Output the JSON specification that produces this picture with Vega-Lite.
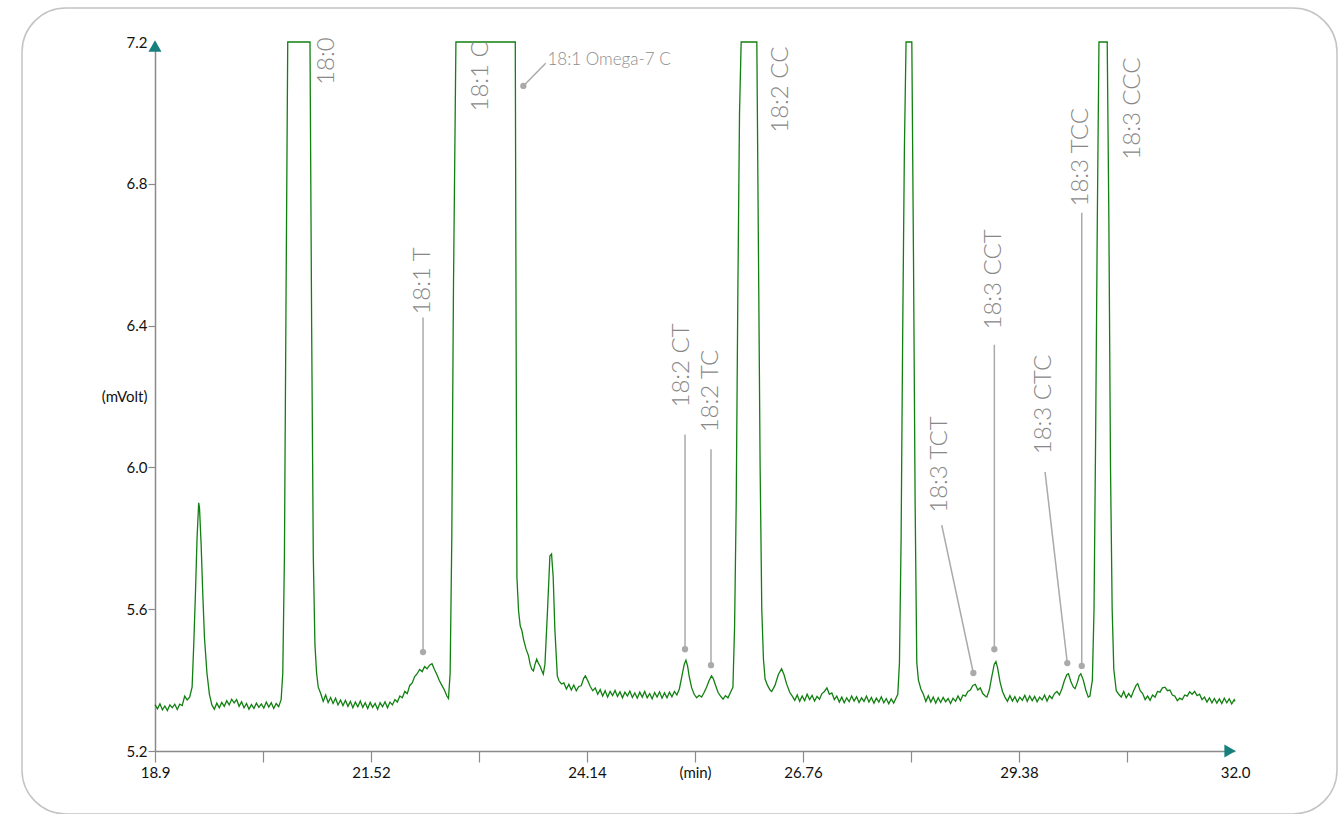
{
  "$schema": "https://vega.github.io/schema/vega-lite/v6.json",
  "autosize": "none",
  "width": 1315,
  "height": 806,
  "padding": {"left": 22, "top": 8, "right": 6, "bottom": 0},
  "background": "white",
  "config": {
    "font": "Lato",
    "view": {"stroke": "#c4c4c4", "strokeWidth": 1.5, "cornerRadius": 44}
  },
  "datasets": {
    "trace": [
      {"t":18.90,"v":5.331},{"t":18.93,"v":5.319},{"t":18.96,"v":5.333},{"t":18.99,"v":5.316},{"t":19.02,"v":5.327},{"t":19.05,"v":5.314},{"t":19.08,"v":5.330},{"t":19.11,"v":5.322},{"t":19.14,"v":5.332},{"t":19.17,"v":5.317},{"t":19.20,"v":5.332},{"t":19.23,"v":5.328},{"t":19.26,"v":5.355},{"t":19.29,"v":5.344},{"t":19.32,"v":5.352},
      {"t":19.35,"v":5.38},{"t":19.37,"v":5.50},{"t":19.39,"v":5.64},{"t":19.41,"v":5.80},{"t":19.43,"v":5.90},{"t":19.44,"v":5.885},{"t":19.46,"v":5.78},{"t":19.48,"v":5.64},{"t":19.50,"v":5.52},{"t":19.53,"v":5.42},{"t":19.56,"v":5.36},{"t":19.59,"v":5.33},
      {"t":19.62,"v":5.318},{"t":19.65,"v":5.335},{"t":19.68,"v":5.322},{"t":19.71,"v":5.337},{"t":19.74,"v":5.326},{"t":19.77,"v":5.342},{"t":19.80,"v":5.330},{"t":19.83,"v":5.346},{"t":19.86,"v":5.336},{"t":19.89,"v":5.345},{"t":19.92,"v":5.326},{"t":19.95,"v":5.339},{"t":19.98,"v":5.322},{"t":20.01,"v":5.334},{"t":20.04,"v":5.318},{"t":20.07,"v":5.331},{"t":20.10,"v":5.320},{"t":20.13,"v":5.335},{"t":20.16,"v":5.323},{"t":20.19,"v":5.333},{"t":20.22,"v":5.321},{"t":20.25,"v":5.338},{"t":20.28,"v":5.324},{"t":20.31,"v":5.336},{"t":20.34,"v":5.320},{"t":20.37,"v":5.334},{"t":20.40,"v":5.325},{"t":20.43,"v":5.345},
      {"t":20.45,"v":5.42},{"t":20.47,"v":5.75},{"t":20.49,"v":6.5},{"t":20.51,"v":7.2},{"t":20.78,"v":7.2},{"t":20.80,"v":6.4},{"t":20.82,"v":5.75},{"t":20.84,"v":5.50},{"t":20.86,"v":5.42},{"t":20.88,"v":5.38},{"t":20.91,"v":5.362},
      {"t":20.94,"v":5.340},{"t":20.97,"v":5.358},{"t":21.00,"v":5.337},{"t":21.03,"v":5.351},{"t":21.06,"v":5.334},{"t":21.09,"v":5.349},{"t":21.12,"v":5.330},{"t":21.15,"v":5.344},{"t":21.18,"v":5.328},{"t":21.21,"v":5.343},{"t":21.24,"v":5.326},{"t":21.27,"v":5.340},{"t":21.30,"v":5.322},{"t":21.33,"v":5.338},{"t":21.36,"v":5.325},{"t":21.39,"v":5.341},{"t":21.42,"v":5.323},{"t":21.45,"v":5.336},{"t":21.48,"v":5.320},{"t":21.51,"v":5.337},{"t":21.54,"v":5.323},{"t":21.57,"v":5.334},{"t":21.60,"v":5.318},{"t":21.63,"v":5.336},{"t":21.66,"v":5.325},{"t":21.69,"v":5.339},{"t":21.72,"v":5.322},{"t":21.75,"v":5.338},{"t":21.78,"v":5.330},{"t":21.81,"v":5.345},
      {"t":21.84,"v":5.338},{"t":21.87,"v":5.355},{"t":21.90,"v":5.350},{"t":21.93,"v":5.368},{"t":21.96,"v":5.362},{"t":21.99,"v":5.385},{"t":22.02,"v":5.392},{"t":22.05,"v":5.410},{"t":22.08,"v":5.418},{"t":22.11,"v":5.430},{"t":22.14,"v":5.424},{"t":22.17,"v":5.438},{"t":22.20,"v":5.432},{"t":22.23,"v":5.442},{"t":22.26,"v":5.446},{"t":22.29,"v":5.430},{"t":22.32,"v":5.415},{"t":22.35,"v":5.398},{"t":22.38,"v":5.385},{"t":22.41,"v":5.372},{"t":22.44,"v":5.355},{"t":22.46,"v":5.348},
      {"t":22.48,"v":5.42},{"t":22.50,"v":5.8},{"t":22.52,"v":6.5},{"t":22.55,"v":7.2},{"t":23.27,"v":7.2},{"t":23.28,"v":6.4},{"t":23.29,"v":5.69},{"t":23.31,"v":5.595},{"t":23.33,"v":5.553},{"t":23.35,"v":5.540},{"t":23.37,"v":5.515},{"t":23.40,"v":5.488},{"t":23.43,"v":5.469},{"t":23.45,"v":5.445},{"t":23.47,"v":5.431},{"t":23.49,"v":5.426},{"t":23.51,"v":5.445},{"t":23.53,"v":5.459},{"t":23.55,"v":5.448},{"t":23.57,"v":5.440},{"t":23.59,"v":5.428},{"t":23.61,"v":5.417},{"t":23.63,"v":5.445},{"t":23.66,"v":5.591},{"t":23.69,"v":5.750},{"t":23.71,"v":5.756},{"t":23.73,"v":5.69},{"t":23.75,"v":5.544},{"t":23.78,"v":5.412},{"t":23.80,"v":5.398},{"t":23.83,"v":5.389},
      {"t":23.86,"v":5.392},{"t":23.89,"v":5.375},{"t":23.92,"v":5.388},{"t":23.95,"v":5.372},{"t":23.98,"v":5.386},{"t":24.01,"v":5.370},{"t":24.04,"v":5.382},{"t":24.07,"v":5.384},{"t":24.10,"v":5.405},{"t":24.12,"v":5.412},{"t":24.15,"v":5.398},{"t":24.18,"v":5.382},{"t":24.21,"v":5.370},{"t":24.24,"v":5.378},{"t":24.27,"v":5.360},{"t":24.30,"v":5.373},{"t":24.33,"v":5.355},{"t":24.36,"v":5.370},{"t":24.39,"v":5.352},{"t":24.42,"v":5.368},{"t":24.45,"v":5.356},{"t":24.48,"v":5.371},{"t":24.51,"v":5.354},{"t":24.54,"v":5.367},{"t":24.57,"v":5.350},{"t":24.60,"v":5.366},{"t":24.63,"v":5.355},{"t":24.66,"v":5.369},{"t":24.69,"v":5.351},{"t":24.72,"v":5.364},{"t":24.75,"v":5.349},{"t":24.78,"v":5.366},{"t":24.81,"v":5.352},{"t":24.84,"v":5.368},{"t":24.87,"v":5.350},{"t":24.90,"v":5.362},{"t":24.93,"v":5.347},{"t":24.96,"v":5.365},{"t":24.99,"v":5.352},{"t":25.02,"v":5.367},{"t":25.05,"v":5.349},{"t":25.08,"v":5.364},{"t":25.11,"v":5.350},{"t":25.14,"v":5.366},{"t":25.17,"v":5.353},{"t":25.20,"v":5.368},{"t":25.23,"v":5.358},
      {"t":25.26,"v":5.375},{"t":25.29,"v":5.410},{"t":25.32,"v":5.445},{"t":25.34,"v":5.456},{"t":25.36,"v":5.440},{"t":25.38,"v":5.410},{"t":25.41,"v":5.378},{"t":25.44,"v":5.360},{"t":25.47,"v":5.350},{"t":25.50,"v":5.357},{"t":25.53,"v":5.352},{"t":25.56,"v":5.365},{"t":25.59,"v":5.380},{"t":25.62,"v":5.398},{"t":25.65,"v":5.412},{"t":25.67,"v":5.405},{"t":25.70,"v":5.385},{"t":25.73,"v":5.365},{"t":25.76,"v":5.355},{"t":25.79,"v":5.346},{"t":25.82,"v":5.356},{"t":25.85,"v":5.350},{"t":25.88,"v":5.365},{"t":25.91,"v":5.38},
      {"t":25.93,"v":5.55},{"t":25.95,"v":5.9},{"t":25.97,"v":6.5},{"t":25.99,"v":7.0},{"t":26.01,"v":7.2},{"t":26.20,"v":7.2},{"t":26.22,"v":6.6},{"t":26.24,"v":6.0},{"t":26.26,"v":5.6},{"t":26.28,"v":5.46},{"t":26.30,"v":5.403},{"t":26.33,"v":5.385},{"t":26.36,"v":5.372},{"t":26.38,"v":5.368},{"t":26.42,"v":5.385},{"t":26.46,"v":5.415},{"t":26.50,"v":5.432},{"t":26.53,"v":5.415},{"t":26.56,"v":5.390},{"t":26.60,"v":5.365},{"t":26.63,"v":5.355},
      {"t":26.66,"v":5.343},{"t":26.69,"v":5.358},{"t":26.72,"v":5.340},{"t":26.75,"v":5.355},{"t":26.78,"v":5.342},{"t":26.81,"v":5.360},{"t":26.84,"v":5.345},{"t":26.87,"v":5.357},{"t":26.90,"v":5.341},{"t":26.93,"v":5.354},{"t":26.96,"v":5.346},{"t":26.99,"v":5.362},{"t":27.02,"v":5.368},{"t":27.05,"v":5.378},{"t":27.08,"v":5.360},{"t":27.11,"v":5.364},{"t":27.14,"v":5.345},{"t":27.17,"v":5.355},{"t":27.20,"v":5.338},{"t":27.23,"v":5.352},{"t":27.26,"v":5.336},{"t":27.29,"v":5.350},{"t":27.32,"v":5.339},{"t":27.35,"v":5.355},{"t":27.38,"v":5.341},{"t":27.41,"v":5.353},{"t":27.44,"v":5.337},{"t":27.47,"v":5.350},{"t":27.50,"v":5.340},{"t":27.53,"v":5.355},{"t":27.56,"v":5.338},{"t":27.59,"v":5.351},{"t":27.62,"v":5.335},{"t":27.65,"v":5.349},{"t":27.68,"v":5.338},{"t":27.71,"v":5.353},{"t":27.74,"v":5.336},{"t":27.77,"v":5.348},{"t":27.80,"v":5.333},{"t":27.83,"v":5.347},{"t":27.86,"v":5.335},{"t":27.89,"v":5.350},
      {"t":27.91,"v":5.36},{"t":27.93,"v":5.45},{"t":27.95,"v":5.8},{"t":27.97,"v":6.4},{"t":27.99,"v":6.9},{"t":28.01,"v":7.2},{"t":28.08,"v":7.2},{"t":28.10,"v":6.6},{"t":28.12,"v":5.9},{"t":28.14,"v":5.45},{"t":28.16,"v":5.40},{"t":28.19,"v":5.375},{"t":28.22,"v":5.36},
      {"t":28.25,"v":5.340},{"t":28.28,"v":5.356},{"t":28.31,"v":5.338},{"t":28.34,"v":5.352},{"t":28.37,"v":5.335},{"t":28.40,"v":5.350},{"t":28.43,"v":5.337},{"t":28.46,"v":5.351},{"t":28.49,"v":5.339},{"t":28.52,"v":5.348},{"t":28.55,"v":5.334},{"t":28.58,"v":5.349},{"t":28.61,"v":5.340},{"t":28.64,"v":5.355},{"t":28.67,"v":5.342},{"t":28.70,"v":5.358},{"t":28.73,"v":5.355},{"t":28.76,"v":5.368},
      {"t":28.79,"v":5.372},{"t":28.82,"v":5.385},{"t":28.85,"v":5.388},{"t":28.88,"v":5.372},{"t":28.91,"v":5.378},{"t":28.94,"v":5.362},{"t":28.97,"v":5.355},{"t":28.99,"v":5.352},
      {"t":29.02,"v":5.372},{"t":29.05,"v":5.410},{"t":29.08,"v":5.445},{"t":29.10,"v":5.452},{"t":29.12,"v":5.435},{"t":29.15,"v":5.395},{"t":29.18,"v":5.368},{"t":29.21,"v":5.352},
      {"t":29.24,"v":5.340},{"t":29.27,"v":5.356},{"t":29.30,"v":5.341},{"t":29.33,"v":5.353},{"t":29.36,"v":5.338},{"t":29.39,"v":5.352},{"t":29.42,"v":5.343},{"t":29.45,"v":5.357},{"t":29.48,"v":5.340},{"t":29.51,"v":5.355},{"t":29.54,"v":5.342},{"t":29.57,"v":5.354},{"t":29.60,"v":5.339},{"t":29.63,"v":5.352},{"t":29.66,"v":5.344},{"t":29.69,"v":5.358},{"t":29.72,"v":5.341},{"t":29.75,"v":5.356},{"t":29.78,"v":5.348},{"t":29.81,"v":5.362},{"t":29.84,"v":5.368},{"t":29.87,"v":5.358},{"t":29.90,"v":5.375},
      {"t":29.93,"v":5.398},{"t":29.96,"v":5.415},{"t":29.98,"v":5.418},{"t":30.01,"v":5.395},{"t":30.04,"v":5.380},{"t":30.06,"v":5.376},{"t":30.09,"v":5.395},{"t":30.11,"v":5.412},{"t":30.13,"v":5.418},{"t":30.16,"v":5.400},{"t":30.19,"v":5.372},{"t":30.22,"v":5.352},{"t":30.24,"v":5.355},
      {"t":30.27,"v":5.40},{"t":30.29,"v":5.6},{"t":30.31,"v":6.1},{"t":30.33,"v":6.7},{"t":30.35,"v":7.2},{"t":30.45,"v":7.2},{"t":30.47,"v":6.7},{"t":30.49,"v":6.0},{"t":30.51,"v":5.6},{"t":30.53,"v":5.43},{"t":30.56,"v":5.37},{"t":30.59,"v":5.36},
      {"t":30.62,"v":5.352},{"t":30.65,"v":5.368},{"t":30.68,"v":5.350},{"t":30.71,"v":5.362},{"t":30.74,"v":5.352},{"t":30.77,"v":5.370},{"t":30.80,"v":5.385},{"t":30.82,"v":5.390},{"t":30.85,"v":5.370},{"t":30.88,"v":5.362},{"t":30.91,"v":5.345},{"t":30.94,"v":5.355},{"t":30.97,"v":5.343},{"t":31.00,"v":5.358},{"t":31.03,"v":5.352},{"t":31.06,"v":5.368},{"t":31.09,"v":5.366},{"t":31.12,"v":5.378},{"t":31.15,"v":5.380},{"t":31.18,"v":5.370},{"t":31.21,"v":5.372},{"t":31.24,"v":5.358},{"t":31.27,"v":5.355},{"t":31.30,"v":5.342},{"t":31.33,"v":5.349},{"t":31.36,"v":5.345},{"t":31.39,"v":5.358},{"t":31.42,"v":5.355},{"t":31.45,"v":5.367},{"t":31.48,"v":5.360},{"t":31.51,"v":5.368},{"t":31.54,"v":5.356},{"t":31.57,"v":5.360},{"t":31.60,"v":5.345},{"t":31.63,"v":5.352},{"t":31.66,"v":5.338},{"t":31.69,"v":5.350},{"t":31.72,"v":5.336},{"t":31.75,"v":5.348},{"t":31.78,"v":5.335},{"t":31.81,"v":5.347},{"t":31.84,"v":5.334},{"t":31.87,"v":5.349},{"t":31.90,"v":5.336},{"t":31.93,"v":5.347},{"t":31.96,"v":5.333},{"t":31.99,"v":5.345},{"t":32.0,"v":5.340}
    ],
    "vlabels": [
      {"label":"18:0","t":20.992,"v":7.079},
      {"label":"18:1  C","t":22.854,"v":7.004},
      {"label":"18:2 CC","t":26.493,"v":6.944},
      {"label":"18:3 CCC","t":30.767,"v":6.868},
      {"label":"18:3 TCC","t":30.132,"v":6.736},
      {"label":"18:1 T","t":22.151,"v":6.431},
      {"label":"18:2 CT","t":25.288,"v":6.169},
      {"label":"18:2 TC","t":25.644,"v":6.099},
      {"label":"18:3 TCT","t":28.422,"v":5.872},
      {"label":"18:3 CCT","t":29.077,"v":6.389},
      {"label":"18:3 CTC","t":29.684,"v":6.037}
    ],
    "leaders": [
      {"peak":"18:1 T","t1":22.151,"v1":6.423,"t2":22.151,"v2":5.479},
      {"peak":"18:2 CT","t1":25.329,"v1":6.093,"t2":25.329,"v2":5.487},
      {"peak":"18:2 TC","t1":25.644,"v1":6.051,"t2":25.644,"v2":5.442},
      {"peak":"18:3 TCT","t1":28.443,"v1":5.837,"t2":28.826,"v2":5.420},
      {"peak":"18:3 CCT","t1":29.081,"v1":6.346,"t2":29.081,"v2":5.487},
      {"peak":"18:3 CTC","t1":29.696,"v1":5.987,"t2":29.966,"v2":5.448},
      {"peak":"18:3 TCC","t1":30.141,"v1":6.718,"t2":30.141,"v2":5.440},
      {"peak":"18:1 Omega-7 C","t1":23.639,"v1":7.140,"t2":23.368,"v2":7.076}
    ],
    "hlabel": [
      {"label":"18:1 Omega-7 C","t":23.66,"v":7.148}
    ],
    "yarrow": [{"t":18.9,"v":7.2}],
    "xarrow": [{"t":32.0,"v":5.2}]
  },
  "layer": [
    {
      "data": {"name": "trace"},
      "mark": {"type": "line", "stroke": "#118011", "strokeWidth": 1.3, "clip": false},
      "encoding": {
        "x": {
          "field": "t", "type": "quantitative",
          "scale": {"domain": [18.9, 32.0], "range": [133, 1213], "nice": false, "zero": false},
          "axis": {
            "title": null,
            "orient": "bottom",
            "offset": -63,
            "values": [18.9, 20.21, 21.52, 22.83, 24.14, 25.45, 26.76, 28.07, 29.38, 30.69, 32.0],
            "labelExpr": "datum.value == 25.45 ? '(min)' : datum.value == 32 ? '32.0' : (datum.value == 18.9 || datum.value == 21.52 || datum.value == 24.14 || datum.value == 26.76 || datum.value == 29.38) ? toString(datum.value) : ''",
            "domainColor": "#8a8a8a",
            "domainWidth": 1.5,
            "tickColor": "#8a8a8a",
            "tickWidth": 1.2,
            "tickSize": 11,
            "tickOpacity": {"condition": {"test": "datum.value == 32", "value": 0}, "value": 1},
            "labelFontSize": 15,
            "labelColor": "#111111",
            "labelPadding": 3,
            "labelFlush": false,
            "labelOverlap": false,
            "grid": false
          }
        },
        "y": {
          "field": "v", "type": "quantitative",
          "scale": {"domain": [5.2, 7.2], "range": [743, 34], "nice": false, "zero": false},
          "axis": {
            "title": null,
            "orient": "left",
            "offset": -133,
            "values": [5.2, 5.6, 6.0, 6.2, 6.4, 6.8, 7.2],
            "labelExpr": "datum.value == 6.2 ? '(mVolt)' : format(datum.value, '.1f')",
            "domainColor": "#8a8a8a",
            "domainWidth": 1.5,
            "tickColor": "#8a8a8a",
            "tickWidth": 1.2,
            "tickSize": 7,
            "tickOpacity": {"condition": {"test": "datum.value == 6.2 || datum.value == 7.2", "value": 0}, "value": 1},
            "labelFontSize": 15,
            "labelColor": "#111111",
            "labelPadding": 1,
            "labelFlush": false,
            "labelOverlap": false,
            "grid": false
          }
        }
      }
    },
    {
      "data": {"name": "leaders"},
      "mark": {"type": "rule", "stroke": "#aaaaaa", "strokeWidth": 1.5},
      "encoding": {
        "x": {"field": "t1", "type": "quantitative", "axis": {"title": null}},
        "y": {"field": "v1", "type": "quantitative", "axis": {"title": null}},
        "x2": {"field": "t2"},
        "y2": {"field": "v2"}
      }
    },
    {
      "data": {"name": "leaders"},
      "mark": {"type": "point", "filled": true, "color": "#aaaaaa", "opacity": 1, "size": 40},
      "encoding": {
        "x": {"field": "t2", "type": "quantitative", "axis": {"title": null}},
        "y": {"field": "v2", "type": "quantitative", "axis": {"title": null}}
      }
    },
    {
      "data": {"name": "vlabels"},
      "mark": {"type": "text", "angle": 270, "align": "left", "baseline": "middle", "font": "Lato", "fontWeight": 300, "fontSize": 24, "color": "#888888"},
      "encoding": {
        "x": {"field": "t", "type": "quantitative", "axis": {"title": null}},
        "y": {"field": "v", "type": "quantitative", "axis": {"title": null}},
        "text": {"field": "label"}
      }
    },
    {
      "data": {"name": "hlabel"},
      "mark": {"type": "text", "align": "left", "baseline": "middle", "font": "Lato", "fontWeight": 300, "fontSize": 17, "color": "#8c8c8c"},
      "encoding": {
        "x": {"field": "t", "type": "quantitative", "axis": {"title": null}},
        "y": {"field": "v", "type": "quantitative", "axis": {"title": null}},
        "text": {"field": "label"}
      }
    },
    {
      "data": {"name": "yarrow"},
      "mark": {"type": "point", "shape": "triangle-up", "filled": true, "color": "#17807f", "opacity": 1, "size": 170, "yOffset": 4},
      "encoding": {
        "x": {"field": "t", "type": "quantitative", "axis": {"title": null}},
        "y": {"field": "v", "type": "quantitative", "axis": {"title": null}}
      }
    },
    {
      "data": {"name": "xarrow"},
      "mark": {"type": "point", "shape": "triangle-right", "filled": true, "color": "#17807f", "opacity": 1, "size": 170, "xOffset": -5},
      "encoding": {
        "x": {"field": "t", "type": "quantitative", "axis": {"title": null}},
        "y": {"field": "v", "type": "quantitative", "axis": {"title": null}}
      }
    }
  ]
}
